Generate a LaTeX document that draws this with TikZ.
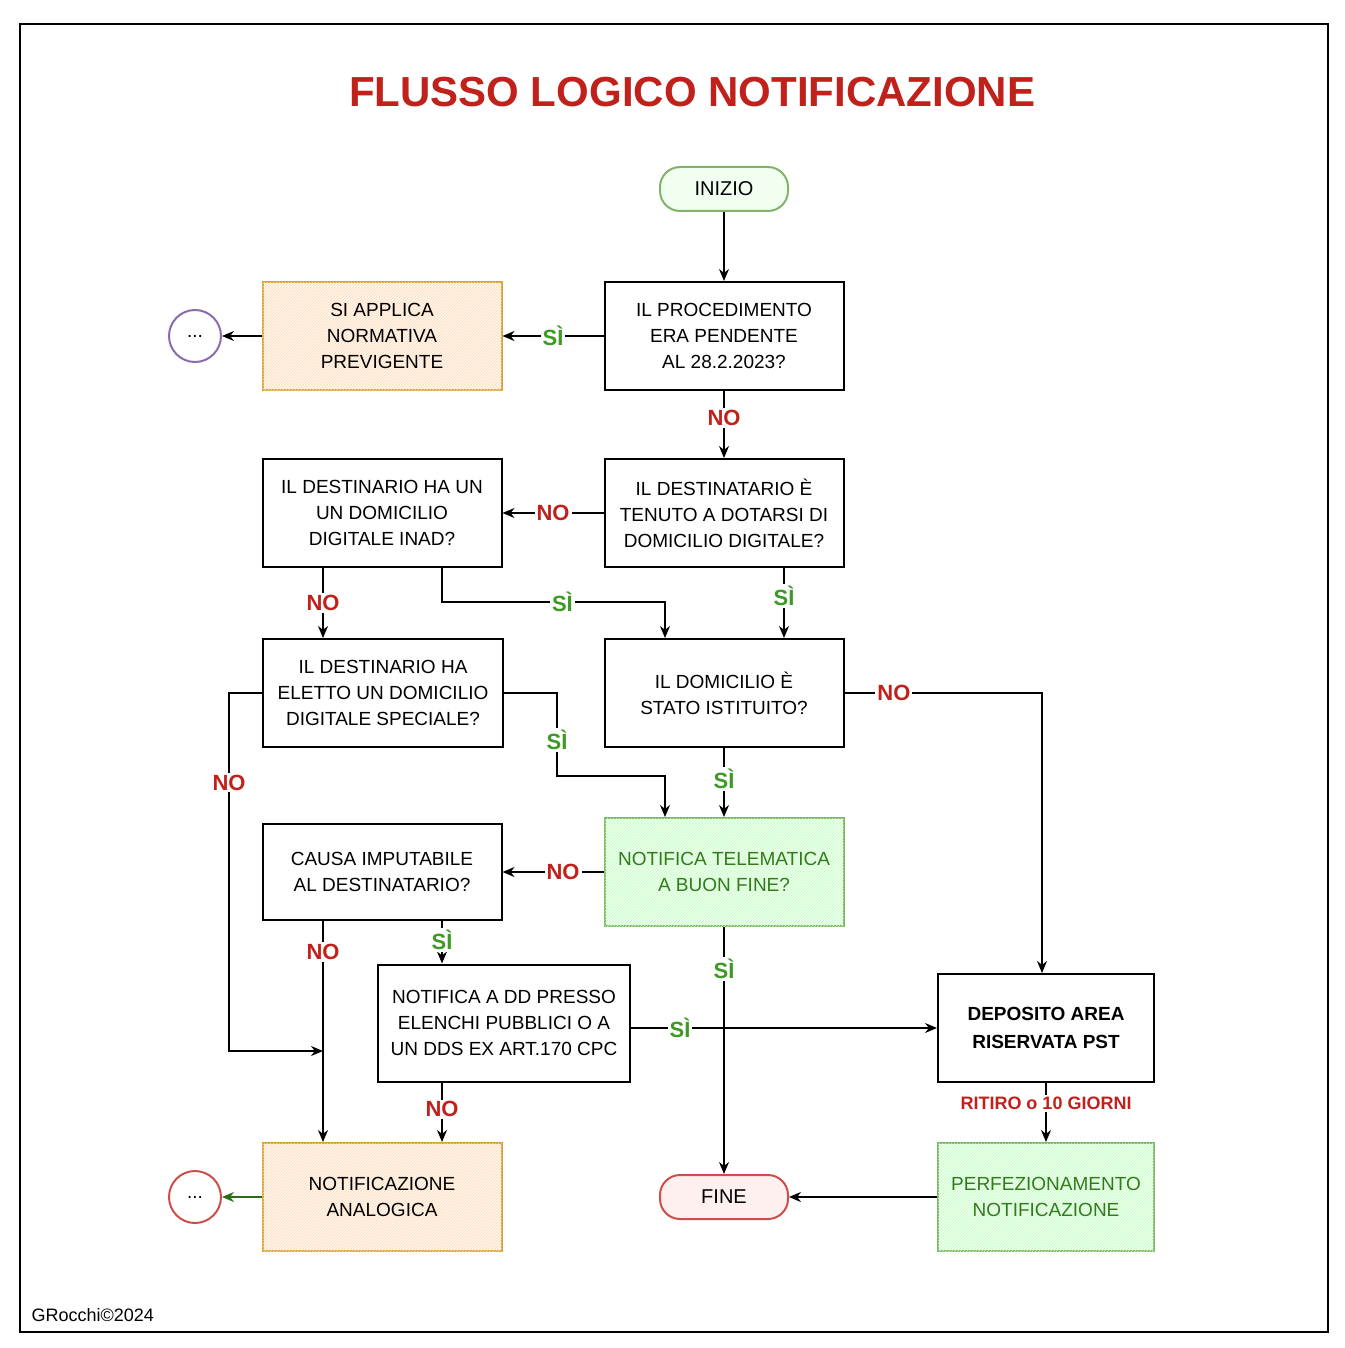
\documentclass[tikz,border=0pt]{standalone}
\usepackage{fontspec}
\setmainfont{Liberation Sans}
\usetikzlibrary{patterns,arrows.meta}
\definecolor{rosso}{HTML}{C0221B}
\definecolor{verde}{HTML}{3E9A24}
\definecolor{verdebox}{HTML}{82B366}
\definecolor{arancio}{HTML}{D6A33A}
\definecolor{viola}{HTML}{8A6BAE}
\tikzset{
  box/.style={draw, line width=2pt, minimum width=239pt, minimum height=108pt, align=center, font=\fontsize{19}{26}\selectfont},
  arancione/.style={box, draw=arancio, fill=orange!6, postaction={pattern=north east lines, pattern color=orange!30}},
  verdone/.style={box, draw=verdebox, fill=green!6, postaction={pattern=north east lines, pattern color=green!25}},
  term/.style={draw, line width=2pt, rounded corners=20pt, minimum width=128pt, minimum height=44pt, font=\fontsize{20}{24}\selectfont},
  si/.style={fill=white, text=verde, font=\bfseries\fontsize{22}{24}\selectfont, inner sep=2pt},
  no/.style={fill=white, text=rosso, font=\bfseries\fontsize{22}{24}\selectfont, inner sep=2pt},
  freccia/.style={-{Stealth[length=12pt,width=10pt]}, line width=1.3pt},
}
\begin{document}
\begin{tikzpicture}[x=1pt,y=-1pt]
		\useasboundingbox (0,0) rectangle (1344,1348);
		\draw[line width=2pt] (20,24) rectangle (1328,1332);
		\node (titolo) at (692,92) {\color{rosso}\bfseries\fontsize{42}{46}\selectfont FLUSSO LOGICO NOTIFICAZIONE};
		\node[term, draw=verdebox, fill=green!6] (inizio) at (724,189) {INIZIO};
		\node[box] (pendente) at (724,336) {IL PROCEDIMENTO\\ERA PENDENTE\\AL 28.2.2023?};
		\node[arancione] (previgente) at (382,336) {SI APPLICA\\NORMATIVA\\PREVIGENTE};
		\node[draw=viola, line width=2pt, circle, minimum size=52pt, font=\fontsize{19}{20}\selectfont] (altro1) at (195,336) {...};
		\node[box] (tenuto) at (724,513) {IL DESTINATARIO È\\TENUTO A DOTARSI DI\\DOMICILIO DIGITALE?};
		\node[box] (inad) at (382,513) {IL DESTINARIO HA UN\\UN DOMICILIO\\DIGITALE INAD?};
		\node[box, minimum width=240pt] (speciale) at (383,693) {IL DESTINARIO HA\\ELETTO UN DOMICILIO\\DIGITALE SPECIALE?};
		\node[box] (istituito) at (724,693) {IL DOMICILIO È\\STATO ISTITUITO?};
		\node[verdone, text=verde!80!black] (buonfine) at (724,872) {NOTIFICA TELEMATICA\\A BUON FINE?};
		\node[box, minimum height=96pt] (causa) at (382,872) {CAUSA IMPUTABILE\\AL DESTINATARIO?};
		\node[box, minimum width=252pt, minimum height=117pt] (elenchi) at (504,1023) {NOTIFICA A DD PRESSO\\ELENCHI PUBBLICI O A\\UN DDS EX ART.170 CPC};
		\node[box, minimum width=216pt, font=\bfseries\fontsize{19}{28}\selectfont] (deposito) at (1046,1028) {DEPOSITO AREA\\RISERVATA PST};
		\node[verdone, minimum width=216pt, text=verde!80!black] (perfez) at (1046,1197) {PERFEZIONAMENTO\\NOTIFICAZIONE};
		\node[term, draw=rosso!80, fill=red!6] (fine) at (724,1197) {FINE};
		\node[arancione] (analogica) at (382,1197) {NOTIFICAZIONE\\ANALOGICA};
		\node[draw=rosso!80, line width=2pt, circle, minimum size=52pt, font=\fontsize{19}{20}\selectfont] (altro2) at (195,1197) {...};
		\node[anchor=west, font=\fontsize{18}{20}\selectfont] (firma) at (28,1315) {GRocchi©2024};
		% connettori
		\draw[freccia] (inizio) -- (pendente);
		\draw[freccia] (pendente) -- node[si] {SÌ} (previgente);
		\draw[freccia] (previgente) -- (altro1);
		\draw[freccia] (pendente) -- node[no, pos=0.4] {NO} (tenuto);
		\draw[freccia] (tenuto) -- node[no] {NO} (inad);
		\draw[freccia] (tenuto.south -| 784,0) -- node[si, pos=0.4] {SÌ} (istituito.north -| 784,0);
		\draw[freccia] (inad.south -| 323,0) -- node[no] {NO} (speciale.north -| 323,0);
		\draw[freccia] (inad.south -| 442,0) |- (665,602) node[si, pos=0.77] {SÌ} -- (istituito.north -| 665,0);
		\draw[freccia] (speciale.west) -- (229,693) -- node[no, pos=0.25] {NO} (229,1051) -- (323,1051);
		\draw[freccia] (speciale.east) -- (557,693) -- node[si, pos=0.57] {SÌ} (557,776) -| (buonfine.north -| 665,0);
		\draw[freccia] (istituito) -- node[si, pos=0.45] {SÌ} (buonfine);
		\draw[freccia] (istituito.east) -- node[no, pos=0.25] {NO} (1042,693) -- (deposito.north -| 1042,0);
		\draw[freccia] (buonfine) -- node[no, pos=0.4] {NO} (causa);
		\draw[freccia] (buonfine) -- node[si, pos=0.17] {SÌ} (fine);
		\draw[freccia] (causa.south -| 323,0) -- node[no, pos=0.14] {NO} (analogica.north -| 323,0);
		\draw[freccia] (causa.south -| 442,0) -- node[si, pos=0.45] {SÌ} (elenchi.north -| 442,0);
		\draw[freccia] (elenchi.east |- deposito) -- node[si, pos=0.16] {SÌ} (deposito.west);
		\draw[freccia] (elenchi.south -| 442,0) -- node[no, pos=0.45] {NO} (analogica.north -| 442,0);
		\draw[freccia] (deposito) -- node[no, pos=0.35, font=\bfseries\fontsize{18}{20}\selectfont] {RITIRO o 10 GIORNI} (perfez);
		\draw[freccia] (perfez) -- (fine);
		\draw[freccia, draw=verde!70!black] (analogica) -- (altro2);
\end{tikzpicture}
\end{document}
